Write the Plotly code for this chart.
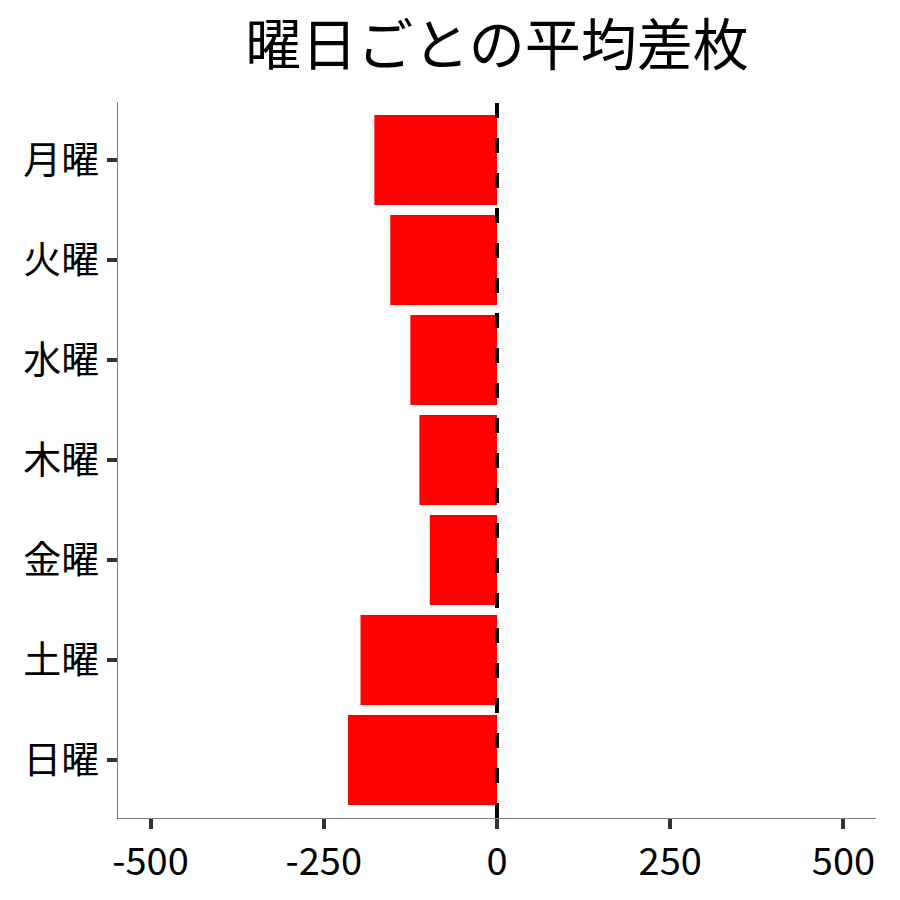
import plotly.graph_objects as go

# 曜日ごとの平均差枚
days = ['月曜', '火曜', '水曜', '木曜', '金曜', '土曜', '日曜']
avg_diff = [-177, -154, -125, -112, -97, -197, -215]
x_ticks = [-500, -250, 0, 250, 500]

font = 'Noto Sans CJK JP'

bar = go.Bar(x=avg_diff, y=days, orientation='h', width=0.9,
             marker=dict(color='#ff0000', line=dict(width=0)))

layout = go.Layout(
    width=900, height=900,
    title=dict(text='曜日ごとの平均差枚', x=0.5, xref='paper', xanchor='center',
               y=0.958, yanchor='middle',
               font=dict(family=font, size=56, color='black')),
    font=dict(family=font, color='black'),
    plot_bgcolor='white', paper_bgcolor='white',
    margin=dict(l=110, r=32, t=94, b=90),
    showlegend=False,
    xaxis=dict(range=[-547, 547], tickvals=x_ticks, ticktext=[str(v) for v in x_ticks],
               showgrid=False, zeroline=False, showline=True, linecolor='#7f7f7f', linewidth=1.3,
               ticks='outside', ticklen=10, tickwidth=4, tickcolor='#333333',
               tickfont=dict(family=font, size=38, color='black')),
    yaxis=dict(categoryorder='array', categoryarray=days, range=[6.58, -0.58],
               showgrid=False, zeroline=False, showline=True, linecolor='#7f7f7f', linewidth=1.3,
               ticks='outside', ticklen=10, tickwidth=4, tickcolor='#333333',
               tickfont=dict(family=font, size=38, color='black')),
)

fig = go.Figure(data=[bar], layout=layout)
fig.add_shape(type='line', x0=0, x1=0, xref='x', y0=0, y1=1, yref='paper',
              line=dict(color='black', width=4, dash='15px,20px'))
fig.write_html('out.html')
